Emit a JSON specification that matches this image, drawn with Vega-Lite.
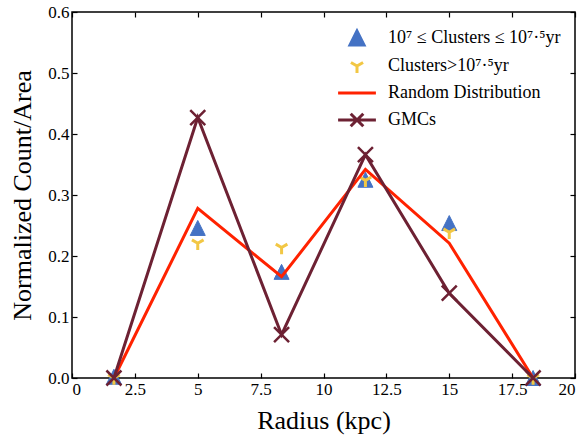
{
  "$schema": "https://vega.github.io/schema/vega-lite/v6.json",
  "width": 503,
  "height": 366,
  "autosize": "none",
  "padding": {"left": 72, "top": 12, "right": 9, "bottom": 57},
  "datasets": {
    "pts": [
      {"series": "10⁷ ≤ Clusters ≤ 10⁷·⁵yr", "r": 1.667, "v": 0.002},
      {"series": "10⁷ ≤ Clusters ≤ 10⁷·⁵yr", "r": 5, "v": 0.246},
      {"series": "10⁷ ≤ Clusters ≤ 10⁷·⁵yr", "r": 8.333, "v": 0.174},
      {"series": "10⁷ ≤ Clusters ≤ 10⁷·⁵yr", "r": 11.667, "v": 0.325},
      {"series": "10⁷ ≤ Clusters ≤ 10⁷·⁵yr", "r": 15, "v": 0.254},
      {"series": "10⁷ ≤ Clusters ≤ 10⁷·⁵yr", "r": 18.333, "v": 0.0},
      {"series": "Clusters>10⁷·⁵yr", "r": 1.667, "v": 0.0},
      {"series": "Clusters>10⁷·⁵yr", "r": 5, "v": 0.221},
      {"series": "Clusters>10⁷·⁵yr", "r": 8.333, "v": 0.214},
      {"series": "Clusters>10⁷·⁵yr", "r": 11.667, "v": 0.324},
      {"series": "Clusters>10⁷·⁵yr", "r": 15, "v": 0.239},
      {"series": "Clusters>10⁷·⁵yr", "r": 18.333, "v": 0.0},
      {"series": "Random Distribution", "r": 1.667, "v": 0.0},
      {"series": "Random Distribution", "r": 5, "v": 0.278},
      {"series": "Random Distribution", "r": 8.333, "v": 0.166},
      {"series": "Random Distribution", "r": 11.667, "v": 0.342},
      {"series": "Random Distribution", "r": 15, "v": 0.221},
      {"series": "Random Distribution", "r": 18.333, "v": 0.0},
      {"series": "GMCs", "r": 1.667, "v": 0.0},
      {"series": "GMCs", "r": 5, "v": 0.427},
      {"series": "GMCs", "r": 8.333, "v": 0.071},
      {"series": "GMCs", "r": 11.667, "v": 0.366},
      {"series": "GMCs", "r": 15, "v": 0.139},
      {"series": "GMCs", "r": 18.333, "v": 0.0}
    ]
  },
  "data": {"name": "pts"},
  "layer": [
    {
      "transform": [{"filter": "datum.series === '10⁷ ≤ Clusters ≤ 10⁷·⁵yr'"}],
      "mark": {"type": "point", "size": 225, "strokeWidth": 1, "opacity": 1, "clip": false},
      "encoding": {
        "x": {"field": "r", "type": "quantitative", "scale": {"domain": [0, 20], "nice": false},
              "axis": {"orient": "bottom", "title": "Radius (kpc)", "values": [0, 2.5, 5, 7.5, 10, 12.5, 15, 17.5, 20], "labelExpr": "datum.value + ''", "titlePadding": 10,
                       "labelFont": "Liberation Serif", "titleFont": "Liberation Serif", "labelFontSize": 17, "titleFontSize": 26}},
        "y": {"field": "v", "type": "quantitative", "scale": {"domain": [0, 0.6], "nice": false},
              "axis": {"orient": "left", "title": "Normalized Count/Area", "values": [0, 0.1, 0.2, 0.3, 0.4, 0.5, 0.6], "format": ".1f", "titlePadding": 12,
                       "labelFont": "Liberation Serif", "titleFont": "Liberation Serif", "labelFontSize": 17, "titleFontSize": 26}},
        "stroke": {"field": "series", "type": "nominal", "title": null,
                   "scale": {"domain": ["10⁷ ≤ Clusters ≤ 10⁷·⁵yr", "Clusters>10⁷·⁵yr", "Random Distribution", "GMCs"],
                             "range": ["#4472c4", "#f2c744", "#ff2200", "#6d2133"]}},
        "fill": {"field": "series", "type": "nominal", "title": null,
                 "scale": {"domain": ["10⁷ ≤ Clusters ≤ 10⁷·⁵yr", "Clusters>10⁷·⁵yr", "Random Distribution", "GMCs"],
                           "range": ["#4472c4", "transparent", "transparent", "transparent"]}},
        "shape": {"field": "series", "type": "nominal", "title": null,
                  "scale": {"domain": ["10⁷ ≤ Clusters ≤ 10⁷·⁵yr", "Clusters>10⁷·⁵yr", "Random Distribution", "GMCs"],
                            "range": ["M0,-1L-1,1L1,1Z", "M0,0L0,1M0,0L-0.866,-0.5M0,0L0.866,-0.5", "M-2.7,0L2.7,0", "M-2.7,0L2.7,0M-0.9,-0.9L0.9,0.9M-0.9,0.9L0.9,-0.9"]}}
      }
    },
    {
      "transform": [{"filter": "datum.series === 'Clusters>10⁷·⁵yr'"}],
      "mark": {"type": "point", "size": 180, "strokeWidth": 3, "opacity": 1, "clip": false},
      "encoding": {
        "x": {"field": "r", "type": "quantitative", "axis": null},
        "y": {"field": "v", "type": "quantitative", "axis": null},
        "stroke": {"field": "series", "type": "nominal", "title": null},
        "fill": {"field": "series", "type": "nominal", "title": null},
        "shape": {"field": "series", "type": "nominal", "title": null}
      }
    },
    {
      "transform": [{"filter": "datum.series === 'Random Distribution'"}],
      "mark": {"type": "line", "strokeWidth": 3, "clip": false},
      "encoding": {
        "x": {"field": "r", "type": "quantitative", "axis": null},
        "y": {"field": "v", "type": "quantitative", "axis": null},
        "stroke": {"field": "series", "type": "nominal", "title": null}
      }
    },
    {
      "transform": [{"filter": "datum.series === 'GMCs'"}],
      "mark": {"type": "line", "strokeWidth": 3, "clip": false},
      "encoding": {
        "x": {"field": "r", "type": "quantitative", "axis": null},
        "y": {"field": "v", "type": "quantitative", "axis": null},
        "stroke": {"field": "series", "type": "nominal", "title": null}
      }
    },
    {
      "transform": [{"filter": "datum.series === 'GMCs'"}],
      "mark": {"type": "point", "shape": "M-1,-1L1,1M-1,1L1,-1", "size": 225, "strokeWidth": 2.5, "opacity": 1, "clip": false},
      "encoding": {
        "x": {"field": "r", "type": "quantitative",
              "axis": {"orient": "top", "labels": false, "title": null, "values": [0, 2.5, 5, 7.5, 10, 12.5, 15, 17.5, 20]}},
        "y": {"field": "v", "type": "quantitative",
              "axis": {"orient": "right", "labels": false, "title": null, "values": [0, 0.1, 0.2, 0.3, 0.4, 0.5, 0.6]}},
        "stroke": {"field": "series", "type": "nominal", "title": null}
      }
    }
  ],
  "resolve": {"axis": {"x": "independent", "y": "independent"}},
  "config": {
    "font": "Liberation Serif",
    "view": {"stroke": "black", "strokeWidth": 1.5},
    "axis": {
      "domain": false, "grid": false,
      "tickSize": -5, "tickColor": "black", "tickWidth": 1.2,
      "labelFont": "Liberation Serif", "labelFontSize": 17, "labelColor": "black", "labelPadding": 8,
      "titleFont": "Liberation Serif", "titleFontSize": 26, "titleFontWeight": "normal", "titleColor": "black"
    },
    "legend": {
      "orient": "none", "legendX": 276, "legendY": 17, "padding": 0,
      "labelFont": "Liberation Serif", "labelFontSize": 18, "labelColor": "black", "labelLimit": 400,
      "symbolSize": 196, "symbolStrokeWidth": 3, "symbolOpacity": 1, "labelOffset": 22, "rowPadding": 5
    }
  }
}
